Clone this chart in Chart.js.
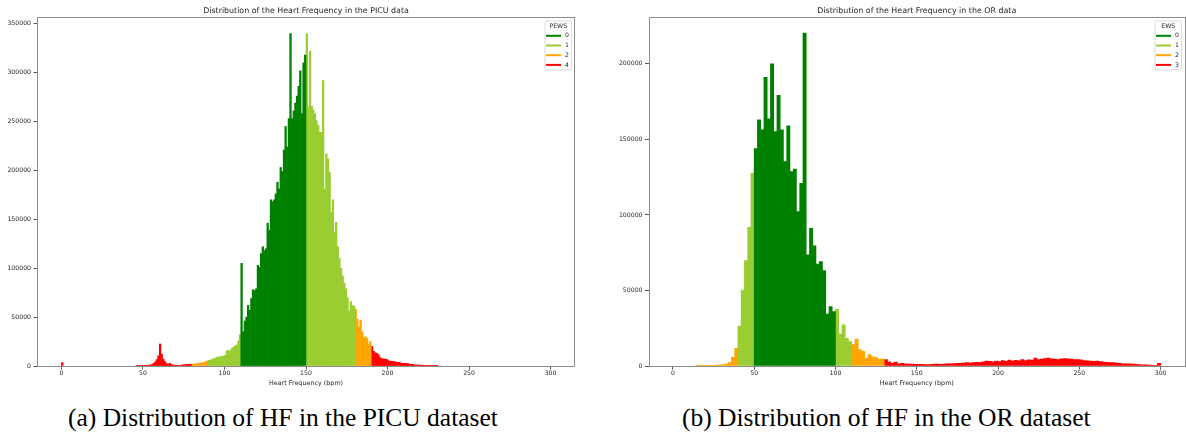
<!DOCTYPE html>
<html>
<head>
<meta charset="utf-8">
<script src="https://cdn.jsdelivr.net/npm/chart.js@4/dist/chart.umd.min.js"></script>
<style>
html,body{margin:0;padding:0;background:#fff;}
body{width:1186px;height:436px;position:relative;overflow:hidden;}
canvas{position:absolute;top:0;}
#c1{left:0;}
#c2{left:593px;}
.cap{position:absolute;top:405px;line-height:25px;font-family:"Liberation Serif","DejaVu Serif",serif;font-size:25.5px;color:#000;white-space:nowrap;}
#cap1{left:68px;}
#cap2{left:682px;}
</style>
</head>
<body>
<canvas id="c1" width="593" height="390"></canvas>
<canvas id="c2" width="593" height="390"></canvas>
<div class="cap" id="cap1">(a) Distribution of HF in the PICU dataset</div>
<div class="cap" id="cap2">(b) Distribution of HF in the OR dataset</div>
<script>
// ---------------- data ----------------
const picuTitle = 'Distribution of the Heart Frequency in the PICU data';
const orTitle = 'Distribution of the Heart Frequency in the OR data';
const xAxisTitle = 'Heart Frequency (bpm)';

const heartRateTicks = [0, 50, 100, 150, 200, 250, 300];
const heartRateTickLabels = ['0', '50', '100', '150', '200', '250', '300'];
const picuCountTicks = [0, 50000, 100000, 150000, 200000, 250000, 300000, 350000];
const picuCountTickLabels = ['0', '50000', '100000', '150000', '200000', '250000', '300000', '350000'];
const orCountTicks = [0, 50000, 100000, 150000, 200000];
const orCountTickLabels = ['0', '50000', '100000', '150000', '200000'];

const pewsTitle = 'PEWS';
const pewsLevels = ['0', '1', '2', '4'];
const ewsTitle = 'EWS';
const ewsLevels = ['0', '1', '2', '3'];

// PICU histogram: bin left edge (bpm) and count, 1 bpm wide bins
const picuBinWidth = 1;
const picuBins = [
  0,
  46, 47, 48, 49, 50, 51, 52, 53, 54, 55,
  56, 57, 58, 59, 60, 61, 62, 63, 64, 65,
  66, 67, 68, 69, 70, 71, 72, 73, 74, 75,
  76, 77, 78, 79, 80, 81, 82, 83, 84, 85,
  86, 87, 88, 89, 90, 91, 92, 93, 94, 95,
  96, 97, 98, 99, 100, 101, 102, 103, 104, 105,
  106, 107, 108, 109, 110, 111, 112, 113, 114, 115,
  116, 117, 118, 119, 120, 121, 122, 123, 124, 125,
  126, 127, 128, 129, 130, 131, 132, 133, 134, 135,
  136, 137, 138, 139, 140, 141, 142, 143, 144, 145,
  146, 147, 148, 149, 150, 151, 152, 153, 154, 155,
  156, 157, 158, 159, 160, 161, 162, 163, 164, 165,
  166, 167, 168, 169, 170, 171, 172, 173, 174, 175,
  176, 177, 178, 179, 180, 181, 182, 183, 184, 185,
  186, 187, 188, 189, 190, 191, 192, 193, 194, 195,
  196, 197, 198, 199, 200, 201, 202, 203, 204, 205,
  206, 207, 208, 209, 210, 211, 212, 213, 214, 215,
  216, 217, 218, 219, 220, 221, 222, 223, 224, 225,
  226, 227, 228, 229, 230
];
const picuCounts = [
  3500,
  300, 400, 400, 500, 500, 600, 700, 800, 1000, 1500,
  2500, 4000, 6500, 10500, 22500, 12000, 7000, 4500, 2500, 2000,
  2800, 1500, 1000, 800, 700, 700, 600, 900, 1200, 1300,
  1500, 1700, 1800, 1800, 2000, 2200, 2300, 2500, 2800, 3000,
  3200, 3500, 4500, 5200, 5800, 6200, 6700, 7500, 8200, 9000,
  9300, 9500, 9800, 10200, 11000, 15500, 16000, 15500, 18000, 19000,
  20500, 21500, 25500, 32000, 105000, 35000, 46000, 50000, 62000, 57000,
  69000, 78000, 77000, 79000, 103000, 101000, 115000, 122000, 118000, 120000,
  146000, 139000, 170000, 168000, 170000, 176000, 188000, 181000, 203000, 199000,
  221000, 245000, 224000, 253000, 340000, 253000, 261000, 269000, 276000, 286000,
  302000, 258000, 310000, 318000, 340000, 265000, 322000, 266000, 262000, 258000,
  251000, 246000, 239000, 239000, 292000, 181000, 217000, 212000, 198000, 157000,
  170000, 137000, 147000, 122000, 110000, 100000, 92000, 85000, 79000, 70000,
  56000, 66000, 62000, 61000, 58000, 48000, 40000, 47000, 35000, 29000,
  30000, 28000, 22000, 25000, 20000, 15000, 13500, 13000, 11500, 8500,
  7500, 7200, 7000, 6800, 5500, 5000, 4800, 4700, 4600, 3800,
  3700, 3600, 2800, 2700, 2700, 2600, 2500, 1800, 1700, 1700,
  1100, 1000, 1000, 900, 900, 800, 700, 700, 600, 600,
  500, 400, 300, 200, 150
];
// PEWS bands for heart rate: [from bpm, to bpm, index into pewsLevels]
const picuBands = [[0, 80, 3], [80, 90, 2], [90, 110, 1], [110, 150, 0], [150, 180, 1], [180, 190, 2], [190, 400, 3]];

// OR histogram: bin left edge (bpm) and count, 2 bpm wide bins
const orBinWidth = 2;
const orBins = [
  14, 16, 18, 20, 22, 24, 26, 28, 30, 32,
  34, 36, 38, 40, 42, 44, 46, 48, 50, 52,
  54, 56, 58, 60, 62, 64, 66, 68, 70, 72,
  74, 76, 78, 80, 82, 84, 86, 88, 90, 92,
  94, 96, 98, 100, 102, 104, 106, 108, 110, 112,
  114, 116, 118, 120, 122, 124, 126, 128, 130, 132,
  134, 136, 138, 140, 142, 144, 146, 148, 150, 152,
  154, 156, 158, 160, 162, 164, 166, 168, 170, 172,
  174, 176, 178, 180, 182, 184, 186, 188, 190, 192,
  194, 196, 198, 200, 202, 204, 206, 208, 210, 212,
  214, 216, 218, 220, 222, 224, 226, 228, 230, 232,
  234, 236, 238, 240, 242, 244, 246, 248, 250, 252,
  254, 256, 258, 260, 262, 264, 266, 268, 270, 272,
  274, 276, 278, 280, 282, 284, 286, 288, 290, 292,
  294, 296, 298
];
const orCounts = [
  200, 200, 200, 300, 300, 400, 600, 800, 1000, 1300,
  2200, 5700, 11700, 26500, 50300, 69700, 91800, 127600, 143900, 162900,
  156300, 191100, 163600, 200000, 155200, 179200, 156300, 135300, 159000, 128700,
  130400, 102200, 120900, 220300, 73500, 91100, 79500, 67500, 69100, 63100,
  34400, 39300, 36000, 37500, 21200, 27200, 18300, 16100, 14100, 17900,
  10800, 9700, 5300, 7500, 6000, 5500, 4600, 4600, 4200, 2800,
  1800, 2600, 1500, 1700, 1400, 1200, 1300, 1100, 1100, 1100,
  900, 1000, 1100, 1200, 1200, 1100, 1300, 1500, 1500, 1600,
  1700, 1800, 2000, 2200, 2000, 2300, 2400, 2300, 2800, 3200,
  3100, 2800, 3300, 3000, 3600, 3100, 4000, 3300, 3800, 3500,
  4200, 3600, 4100, 3900, 5200, 4300, 4500, 4900, 5300, 4800,
  4600, 4200, 4700, 4900, 4800, 4500, 4300, 4200, 4100, 3600,
  3400, 3200, 3100, 3300, 2900, 2600, 2500, 2300, 2200, 2000,
  1800, 1500, 1400, 1500, 1200, 1100, 900, 800, 700, 600,
  500, 400, 1800
];
// EWS bands for heart rate: [from bpm, to bpm, index into ewsLevels]
const orBands = [[0, 40, 2], [40, 50, 1], [50, 100, 0], [100, 110, 1], [110, 130, 2], [130, 400, 3]];

// ---------------- styles ----------------
const levelColors = ['#008000', '#9acd32', '#ffa500', '#ff0000'];
const FONT = '"DejaVu Sans", sans-serif';
const TEXT = '#262626';

function levelOf(bin, bands) {
  for (const [a, b, l] of bands) if (bin >= a && bin < b) return l;
  return -1;
}
function buildDatasets(bins, counts, width, bands, levels) {
  return levels.map((lab, li) => ({
    label: lab,
    backgroundColor: levelColors[li],
    borderWidth: 0,
    data: bins.map((b, i) => ({ b, c: counts[i] }))
      .filter(o => levelOf(o.b, bands) === li)
      .map(o => ({ x: o.b + width / 2, y: o.c }))
  }));
}

const decorPlugin = {
  id: 'decor',
  afterDraw(chart, args, opts) {
    const { ctx, chartArea: a } = chart;
    ctx.save();
    // frame (spines)
    ctx.strokeStyle = '#8c8c8c';
    ctx.lineWidth = 1;
    ctx.strokeRect(Math.round(a.left) + 0.5, Math.round(a.top) + 0.5, Math.round(a.right - a.left) - 1, Math.round(a.bottom - a.top));
    // title
    ctx.fillStyle = TEXT;
    ctx.font = '7.9px ' + FONT;
    ctx.textAlign = 'center';
    ctx.textBaseline = 'middle';
    ctx.fillText(opts.title, (a.left + a.right) / 2, a.top - 6);
    // legend
    const items = chart.data.datasets;
    const fs = 6.2;
    const boxW = 26.5, rowH = 9.7;
    const boxH = 15 + rowH * items.length - 5;
    const x1 = a.right - 3.5 - boxW, y1 = a.top + 4;
    ctx.fillStyle = 'rgba(255,255,255,0.9)';
    ctx.strokeStyle = '#d4d4d4';
    ctx.lineWidth = 0.8;
    ctx.beginPath();
    ctx.roundRect(x1, y1, boxW, boxH, 1.5);
    ctx.fill();
    ctx.stroke();
    ctx.fillStyle = TEXT;
    ctx.font = fs + 'px ' + FONT;
    ctx.textAlign = 'center';
    ctx.fillText(opts.legendTitle, x1 + boxW / 2, y1 + 5.2);
    items.forEach((d, i) => {
      const y = y1 + 14.8 + i * rowH;
      ctx.strokeStyle = d.backgroundColor;
      ctx.lineWidth = 2;
      ctx.beginPath();
      ctx.moveTo(x1 + 1, y);
      ctx.lineTo(x1 + 16, y);
      ctx.stroke();
      ctx.fillStyle = TEXT;
      ctx.textAlign = 'left';
      ctx.fillText(d.label, x1 + 20, y);
    });
    ctx.restore();
  }
};

function makeChart(id, cfg) {
  const tickFont = { family: FONT, size: 6.2 };
  return new Chart(document.getElementById(id), {
    type: 'bar',
    data: { datasets: buildDatasets(cfg.bins, cfg.counts, cfg.width, cfg.bands, cfg.levels) },
    options: {
      responsive: false,
      animation: false,
      devicePixelRatio: 1,
      events: [],
      layout: { padding: { top: 17, right: cfg.padRight, left: 0, bottom: 0 } },
      datasets: { bar: { grouped: false, barPercentage: 1, categoryPercentage: 1 } },
      plugins: {
        legend: { display: false },
        tooltip: { enabled: false },
        decor: { title: cfg.title, legendTitle: cfg.legendTitle }
      },
      scales: {
        x: {
          type: 'linear', min: -15, max: 315, offset: false,
          afterBuildTicks: ax => { ax.ticks = heartRateTicks.map(v => ({ value: v })); },
          afterFit: ax => { ax.height = 24; },
          grid: { offset: false, drawOnChartArea: false, drawTicks: true, tickLength: 3.5, tickColor: '#555' },
          border: { display: false },
          ticks: {
            font: tickFont, color: TEXT, padding: 0.5, maxRotation: 0, autoSkip: false,
            callback: (v, i) => heartRateTickLabels[i]
          },
          title: { display: true, text: xAxisTitle, font: { family: FONT, size: 6.4 }, color: TEXT, padding: { top: 0, bottom: 3 } }
        },
        y: {
          type: 'linear', min: 0, max: cfg.yMax,
          afterBuildTicks: ax => { ax.ticks = cfg.yTicks.map(v => ({ value: v })); },
          afterFit: ax => { ax.width = cfg.yWidth; },
          grid: { drawOnChartArea: false, drawTicks: true, tickLength: 3.5, tickColor: '#555' },
          border: { display: false },
          ticks: {
            font: tickFont, color: TEXT, padding: 2.5,
            callback: (v, i) => cfg.yTickLabels[i]
          }
        }
      }
    },
    plugins: [decorPlugin]
  });
}

makeChart('c1', {
  bins: picuBins, counts: picuCounts, width: picuBinWidth, bands: picuBands, levels: pewsLevels,
  title: picuTitle, legendTitle: pewsTitle,
  yMax: 357000, yTicks: picuCountTicks, yTickLabels: picuCountTickLabels,
  yWidth: 37, padRight: 18
});
makeChart('c2', {
  bins: orBins, counts: orCounts, width: orBinWidth, bands: orBands, levels: ewsLevels,
  title: orTitle, legendTitle: ewsTitle,
  yMax: 231000, yTicks: orCountTicks, yTickLabels: orCountTickLabels,
  yWidth: 55.5, padRight: 1
});
</script>
</body>
</html>
